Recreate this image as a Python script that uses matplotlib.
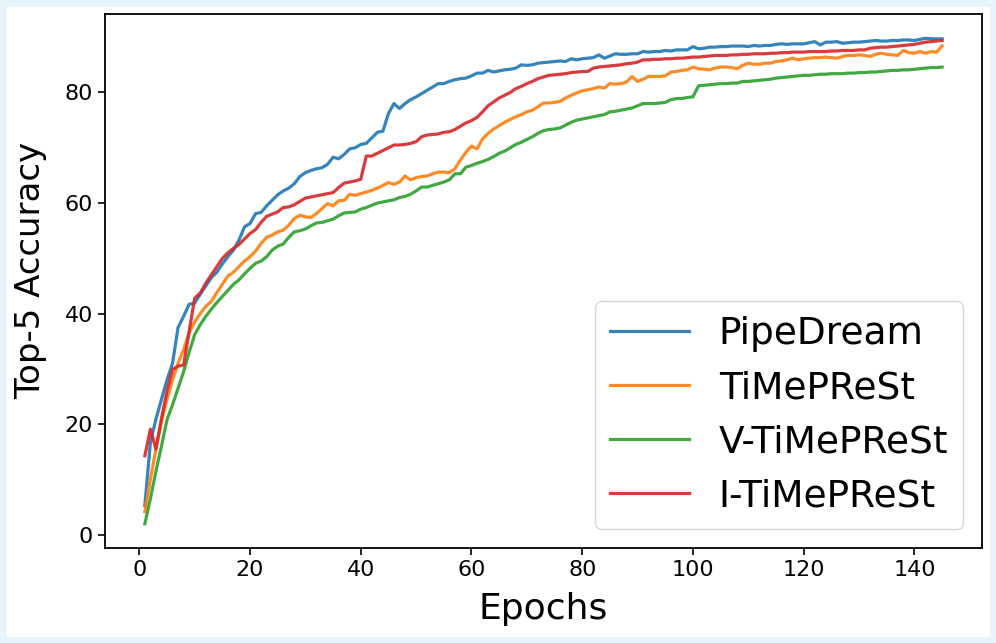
import matplotlib.pyplot as plt
from matplotlib.patches import Rectangle

epochs = list(range(1, 146))

pipedream = [
    5.3, 16.7, 20.9, 24.5, 28.0, 31.0, 37.5, 39.5, 41.7, 41.9,
    43.5, 45.0, 46.5, 47.5, 49.0, 50.3, 51.5, 53.3, 55.7, 56.3,
    58.1, 58.3, 59.5, 60.5, 61.5, 62.2, 62.7, 63.5, 64.8, 65.5,
    65.9, 66.2, 66.4, 67.0, 68.3, 68.0, 68.8, 69.8, 70.0, 70.6,
    70.8, 71.8, 72.8, 73.0, 76.2, 78.0, 77.1, 78.0, 78.7, 79.2,
    79.8, 80.4, 81.0, 81.6, 81.6, 82.0, 82.3, 82.5, 82.6, 83.0,
    83.5, 83.5, 84.0, 83.7, 83.9, 84.1, 84.2, 84.4, 85.0, 84.9,
    85.0, 85.3, 85.4, 85.5, 85.6, 85.7, 85.6, 86.1, 85.9, 86.1,
    86.2, 86.3, 86.8, 86.2, 86.6, 87.0, 86.9, 86.9, 87.0, 87.0,
    87.4, 87.3, 87.4, 87.4, 87.6, 87.5, 87.7, 87.7, 87.7, 88.3,
    87.9, 88.0, 88.2, 88.2, 88.3, 88.3, 88.4, 88.4, 88.4, 88.3,
    88.5, 88.4, 88.5, 88.5, 88.7, 88.8, 88.7, 88.8, 88.8, 88.8,
    89.0, 89.2, 88.6, 89.1, 89.1, 89.2, 88.9, 89.0, 89.1, 89.1,
    89.2, 89.3, 89.4, 89.3, 89.3, 89.4, 89.4, 89.5, 89.5, 89.4,
    89.6, 89.8, 89.7, 89.7, 89.7,
]

timeprest = [
    4.2, 10.0, 15.5, 20.5, 24.5, 28.0, 31.0, 33.5, 36.5, 38.5,
    40.0, 41.3, 42.2, 43.8, 45.3, 46.8, 47.5, 48.5, 49.5, 50.3,
    51.3, 52.7, 53.8, 54.2, 54.8, 55.1, 56.0, 57.2, 57.8, 57.5,
    57.4, 58.1, 59.0, 59.9, 59.5, 60.4, 60.5, 61.6, 61.4, 61.7,
    62.0, 62.3, 62.7, 63.2, 63.7, 63.4, 63.8, 64.9, 64.2, 64.6,
    64.8, 64.9, 65.3, 65.6, 65.6, 65.5, 66.2, 67.8, 69.2, 70.3,
    69.8, 71.6, 72.6, 73.4, 74.0, 74.6, 75.1, 75.6, 76.0, 76.5,
    76.8, 77.4, 78.1, 78.1, 78.2, 78.4, 79.0, 79.5, 79.9, 80.3,
    80.5, 80.7, 81.0, 80.8, 81.6, 81.5, 81.6, 81.9, 82.9, 82.0,
    82.4, 82.9, 82.9, 82.9, 83.0, 83.7, 83.8, 84.0, 84.1, 84.6,
    84.3, 84.2, 84.1, 84.4, 84.6, 84.6, 84.5, 84.3, 84.9, 85.3,
    85.1, 85.1, 85.3, 85.3, 85.6, 85.7, 85.9, 86.2, 85.9, 86.1,
    86.2, 86.3, 86.3, 86.4, 86.3, 86.2, 86.5, 86.7, 86.7, 86.8,
    86.7, 86.5, 86.9, 87.1, 86.9, 86.8, 86.7, 87.6, 87.2, 87.1,
    87.4, 87.1, 87.4, 87.3, 88.4,
]

v_timeprest = [
    2.0, 6.5, 11.5, 16.0, 20.8, 23.5, 26.5, 29.5, 33.0, 36.2,
    38.0, 39.5, 40.8, 42.0, 43.1, 44.2, 45.3, 46.1, 47.2, 48.2,
    49.1, 49.5, 50.3, 51.5, 52.2, 52.6, 53.8, 54.8, 55.0, 55.3,
    55.9, 56.4, 56.5, 56.8, 57.1, 57.7, 58.2, 58.3, 58.4, 58.9,
    59.2, 59.6, 60.0, 60.2, 60.4, 60.6, 61.0, 61.2, 61.6, 62.2,
    62.9, 62.9, 63.2, 63.5, 63.8, 64.2, 65.3, 65.3, 66.5, 66.8,
    67.2, 67.5, 67.9, 68.4, 69.0, 69.4, 70.0, 70.6, 71.0, 71.5,
    72.0, 72.6, 73.1, 73.3, 73.4, 73.6, 74.1, 74.6, 75.0, 75.2,
    75.4, 75.6, 75.8, 76.0, 76.5, 76.6, 76.8, 77.0, 77.2, 77.6,
    78.0, 78.0, 78.0, 78.1, 78.2, 78.7, 78.9, 78.9, 79.1, 79.2,
    81.2, 81.3, 81.4, 81.5, 81.6, 81.6, 81.7, 81.7, 82.0, 82.0,
    82.1, 82.2, 82.3, 82.4, 82.6, 82.7, 82.8, 82.9, 83.0, 83.1,
    83.1, 83.2, 83.3, 83.3, 83.4, 83.4, 83.4, 83.5, 83.5, 83.6,
    83.6, 83.7, 83.7, 83.8, 83.9, 84.0, 84.0, 84.1, 84.1, 84.2,
    84.3, 84.4, 84.5, 84.5, 84.6,
]

i_timeprest = [
    14.3, 19.1, 15.5, 21.0, 26.0, 29.9, 30.5, 30.7, 36.7, 42.8,
    43.7, 45.5, 47.0, 48.5, 50.0, 51.0, 51.8, 52.5, 53.5, 54.5,
    55.2, 56.5, 57.6, 58.0, 58.4, 59.2, 59.3, 59.7, 60.3, 60.9,
    61.1, 61.3, 61.5, 61.7, 61.9, 62.8, 63.6, 63.8, 64.0, 64.3,
    68.5, 68.5, 69.0, 69.5, 70.0, 70.5, 70.5, 70.6, 70.8, 71.1,
    72.0, 72.3, 72.4, 72.5, 72.8, 72.9, 73.3, 73.9, 74.5, 74.9,
    75.5, 76.5, 77.6, 78.3, 79.0, 79.5, 80.0, 80.7, 81.1, 81.6,
    82.0, 82.5, 82.8, 83.1, 83.2, 83.3, 83.4, 83.6, 83.7, 83.8,
    83.8, 84.4, 84.6, 84.7, 84.8, 84.9, 85.0, 85.2, 85.3, 85.5,
    85.9, 85.9, 86.0, 86.0, 86.1, 86.1, 86.2, 86.2, 86.3, 86.4,
    86.4, 86.5, 86.6, 86.7, 86.7, 86.7, 86.8, 86.8, 86.9, 86.9,
    87.0, 87.0, 87.0, 87.1, 87.1, 87.2, 87.2, 87.3, 87.3, 87.3,
    87.4, 87.4, 87.4, 87.4, 87.5, 87.5, 87.6, 87.6, 87.6, 87.7,
    87.7, 88.0, 88.1, 88.2, 88.2, 88.3, 88.4, 88.5, 88.6, 88.7,
    88.9, 89.1, 89.2, 89.3, 89.4,
]

series = [
    ('PipeDream', pipedream),
    ('TiMePReSt', timeprest),
    ('V-TiMePReSt', v_timeprest),
    ('I-TiMePReSt', i_timeprest),
]

fig = plt.figure(figsize=(9.96, 6.43), dpi=100)
ax = fig.add_axes([0.1054, 0.1477, 0.8805, 0.8305])

for name, values in series:
    ax.plot(epochs, values, linewidth=2.3, alpha=0.9, label=name)

ax.set_xlabel('Epochs', fontsize=26, labelpad=9)
ax.set_ylabel('Top-5 Accuracy', fontsize=24.5, labelpad=10)
ax.yaxis.set_label_coords(-0.066, 0.52)
ax.tick_params(labelsize=16, length=5, width=1.2)
for spine in ax.spines.values():
    spine.set_linewidth(1.3)

ax.legend(loc='lower right', fontsize=27, handlelength=2.1,
          borderaxespad=0.5, labelspacing=0.48)

# light blue frame around the picture
fig.patches.append(Rectangle((0, 0), 1, 1, transform=fig.transFigure,
                             fill=False, edgecolor='#e6f4fb', linewidth=9))

fig.savefig('out.png', dpi=100)
plt.close(fig)
